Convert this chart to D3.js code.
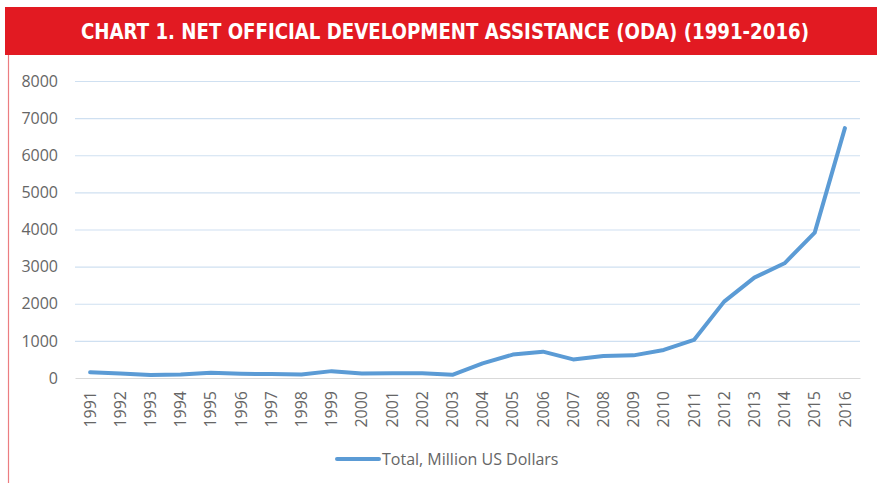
<!DOCTYPE html>
<html>
<head>
<meta charset="utf-8">
<script src="https://cdn.jsdelivr.net/npm/d3@7"></script>
<style>
  body { margin: 0; background: #fff; }
  .tick text { font-family: "Open Sans", "Liberation Sans", sans-serif; fill: #666; }
</style>
</head>
<body>
<div class="oda_chart"></div>
<script>
var svgWidth = 877;
var svgHeight = 483;

var margin = { top: 81, right: 17, bottom: 105, left: 75 };
var width = svgWidth - margin.left - margin.right;
var height = svgHeight - margin.top - margin.bottom;

// data
var years = ["1991", "1992", "1993", "1994", "1995", "1996", "1997", "1998", "1999", "2000",
  "2001", "2002", "2003", "2004", "2005", "2006", "2007", "2008", "2009", "2010",
  "2011", "2012", "2013", "2014", "2015", "2016"];
var odaTotal = [155, 120, 80, 95, 140, 115, 105, 95, 185, 120,
  125, 125, 85, 395, 630, 710, 500, 590, 610, 755,
  1025, 2057, 2705, 3090, 3915, 6730];
var yTicks = [0, 1000, 2000, 3000, 4000, 5000, 6000, 7000, 8000];
var seriesName = "Total, Million US Dollars";
var chartTitle = "CHART 1. NET OFFICIAL DEVELOPMENT ASSISTANCE (ODA) (1991-2016)";

var svg = d3.select(".oda_chart")
  .append("svg")
  .attr("width", svgWidth)
  .attr("height", svgHeight);

// red title banner + left border
svg.append("rect")
  .attr("x", 5).attr("y", 7)
  .attr("width", svgWidth - 5).attr("height", 48)
  .attr("fill", "#e21a22");

svg.append("line")
  .attr("x1", 8.5).attr("x2", 8.5)
  .attr("y1", 55).attr("y2", svgHeight)
  .attr("stroke", "#ec7d81")
  .attr("stroke-width", 1.2);

svg.append("text")
  .attr("x", 445)
  .attr("y", 39)
  .attr("text-anchor", "middle")
  .attr("fill", "#fff")
  .attr("font-family", "'Liberation Sans Narrow', 'DejaVu Sans Condensed', sans-serif")
  .attr("font-weight", "bold")
  .attr("font-size", "21px")
  .attr("textLength", 728)
  .attr("lengthAdjust", "spacingAndGlyphs")
  .text(chartTitle);

var chartGroup = svg.append("g")
  .attr("transform", `translate(${margin.left}, ${margin.top})`);

var xBandScale = d3.scaleBand()
  .domain(years)
  .range([0, width]);

var yLinearScale = d3.scaleLinear()
  .domain([0, 8000])
  .range([height, 0]);

// gridlines
chartGroup.selectAll(".grid")
  .data(yTicks.filter(d => d > 0))
  .enter()
  .append("line")
  .attr("x1", 0).attr("x2", width)
  .attr("y1", d => yLinearScale(d) + 0.5)
  .attr("y2", d => yLinearScale(d) + 0.5)
  .attr("stroke", "#cfe0f1")
  .attr("stroke-width", 1.2);

// y axis labels
var leftAxis = d3.axisLeft(yLinearScale)
  .tickValues(yTicks)
  .tickFormat(d3.format("d"))
  .tickSize(0)
  .tickPadding(17);
var yAxis = chartGroup.append("g").call(leftAxis);
yAxis.select(".domain").remove();
yAxis.selectAll("text").attr("font-size", "16px");

// x axis
var bottomAxis = d3.axisBottom(xBandScale).tickSize(0).tickPadding(0);
var xAxis = chartGroup.append("g")
  .attr("transform", `translate(0, ${height})`)
  .call(bottomAxis);
xAxis.select(".domain").attr("stroke", "#d9d9d9").attr("stroke-width", 1.2);
xAxis.selectAll("text")
  .attr("font-size", "16px")
  .attr("text-anchor", "end")
  .attr("dy", "0.35em")
  .attr("y", 0)
  .attr("transform", "translate(0, 13) rotate(-90)");

// the line
var line = d3.line()
  .x((d, i) => xBandScale(years[i]) + xBandScale.bandwidth() / 2)
  .y(d => yLinearScale(d));

chartGroup.append("path")
  .datum(odaTotal)
  .attr("d", line)
  .attr("fill", "none")
  .attr("stroke", "#5b9bd5")
  .attr("stroke-width", 4)
  .attr("stroke-linejoin", "round")
  .attr("stroke-linecap", "round");

// legend
var legend = svg.append("g").attr("transform", "translate(337, 459)");
legend.append("line")
  .attr("x1", 0).attr("x2", 42)
  .attr("stroke", "#5b9bd5")
  .attr("stroke-width", 4)
  .attr("stroke-linecap", "round");
legend.append("text")
  .attr("x", 45)
  .attr("dy", "0.35em")
  .attr("font-family", "'Open Sans', 'Liberation Sans', sans-serif")
  .attr("font-size", "16px")
  .attr("fill", "#666")
  .text(seriesName);
</script>
</body>
</html>
